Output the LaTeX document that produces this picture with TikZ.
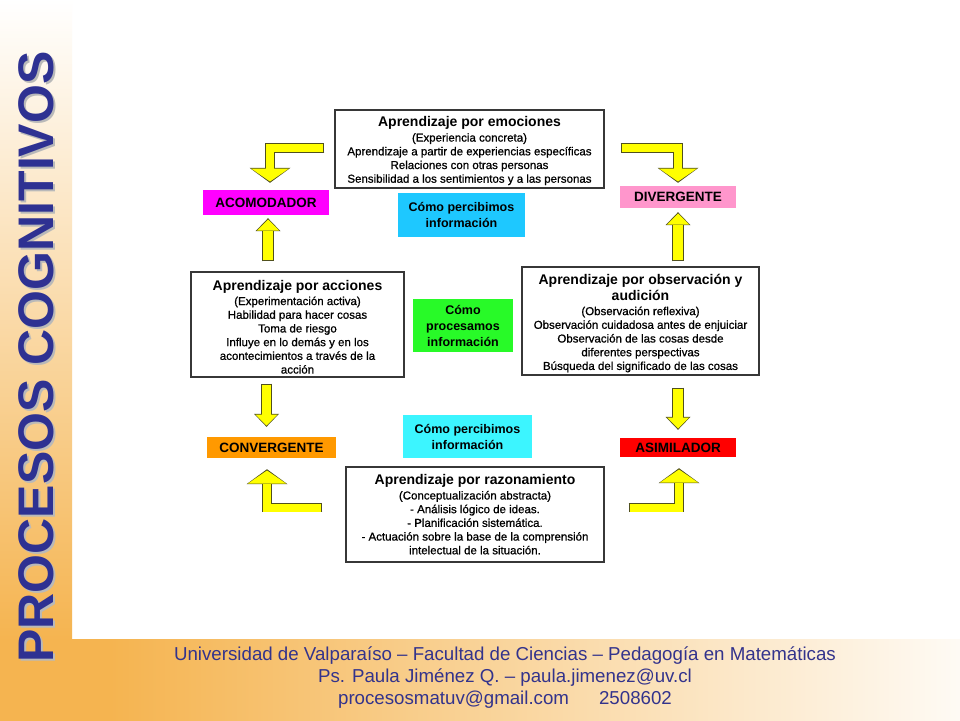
\documentclass[tikz,border=0pt]{standalone}
\usepackage{fontspec}
\setmainfont{Liberation Sans}
\newfontfamily\boxfont{Liberation Sans}[FakeBold=0.8]
\usetikzlibrary{arrows.meta,calc}

\definecolor{framegray}{RGB}{55,55,55}
\definecolor{arrowedge}{RGB}{80,80,30}
\definecolor{arrowfill}{RGB}{255,255,0}
\definecolor{skyA}{RGB}{30,200,255}
\definecolor{skyB}{RGB}{60,245,255}
\definecolor{procgreen}{RGB}{40,250,40}
\definecolor{acomcol}{RGB}{255,0,255}
\definecolor{divcol}{RGB}{255,150,204}
\definecolor{convcol}{RGB}{255,153,0}
\definecolor{asimcol}{RGB}{255,0,0}
\definecolor{slideorange}{RGB}{245,180,80}
\definecolor{titleblue}{RGB}{46,49,146}
\definecolor{footblue}{RGB}{51,51,140}

\newcommand{\headline}{\rmfamily\bfseries\fontsize{14}{16}\selectfont}

\tikzstyle{learn} = [draw=framegray, line width=1.3pt, rectangle, align=center, inner sep=2pt, font=\boxfont\fontsize{11.5}{13.7}\selectfont]
\tikzstyle{kind} = [rectangle, inner sep=0pt, font=\bfseries\fontsize{13.5}{15}\selectfont]
\tikzstyle{ask} = [rectangle, inner sep=0pt, align=center, font=\bfseries\fontsize{12.5}{16}\selectfont]
\tikzstyle{bent} = [draw=arrowfill, line width=8pt, line join=miter, shorten <=0.9pt, shorten >=1.3pt, -{Triangle[width=38pt, length=13pt, line width=0pt]}, preaction={draw=arrowedge, line width=9.8pt, shorten <=0pt, shorten >=0pt, -{Triangle[width=41pt, length=15pt, line width=0pt]}}]
\tikzstyle{upright} = [draw=arrowfill, line width=9.5pt, shorten <=0.9pt, shorten >=1.3pt, -{Triangle[width=22pt, length=11pt, line width=0pt]}, preaction={draw=arrowedge, line width=11.3pt, shorten <=0pt, shorten >=0pt, -{Triangle[width=25pt, length=13pt, line width=0pt]}}]
\tikzstyle{foot} = [text=footblue, font=\fontsize{18.7}{22}\selectfont, align=center]

\begin{document}
\begin{tikzpicture}[x=1pt, y=-1pt]
        \useasboundingbox (0,0) rectangle (960,720);
        \fill[white] (0,0) rectangle (960,720);
        \shade[top color=white, bottom color=slideorange] (0,-1) rectangle (72,640);
        \fill[slideorange] (-1,639) rectangle (112,721);
        \shade[left color=slideorange, right color=white!94!slideorange] (110,639) rectangle (961,721);

        \node[rotate=90, text=gray!55, font=\bfseries\fontsize{50}{50}\selectfont] (titleshade) at (38.5,359) {PROCESOS COGNITIVOS};
        \node[rotate=90, text=titleblue, font=\bfseries\fontsize{50}{50}\selectfont] (title) at (36,357) {PROCESOS COGNITIVOS};

        \node[learn, minimum width=269pt, minimum height=78pt] (emo) at (469.5,149) {\rule{0pt}{14pt}{\headline Aprendizaje por emociones}\\[1pt] (Experiencia concreta)\\ Aprendizaje a partir de experiencias específicas\\ Relaciones con otras personas\\ Sensibilidad a los sentimientos y a las personas};
        \node[learn, minimum width=213pt, minimum height=105pt] (acc) at (297.5,324.5) {\rule{0pt}{15pt}{\headline Aprendizaje por acciones}\\[1pt] (Experimentación activa)\\ Habilidad para hacer cosas\\ Toma de riesgo\\ Influye en lo demás y en los\\ acontecimientos a través de la\\ acción};
        \node[learn, minimum width=237pt, minimum height=108pt] (obs) at (640.5,321) {\rule{0pt}{15pt}{\headline Aprendizaje por observación y}\\[2.5pt] {\headline audición}\\[0.5pt] (Observación reflexiva)\\ Observación cuidadosa antes de enjuiciar\\ Observación de las cosas desde\\ diferentes perspectivas\\ Búsqueda del significado de las cosas};
        \node[learn, minimum width=258pt, minimum height=95pt] (raz) at (475,514.5) {{\headline Aprendizaje por razonamiento}\\[1pt] (Conceptualización abstracta)\\ - Análisis lógico de ideas.\\ - Planificación sistemática.\\ - Actuación sobre la base de la comprensión\\ intelectual de la situación.};

        \node[ask, fill=skyA, minimum width=127pt, minimum height=44pt] (per1) at (461.5,215) {Cómo percibimos\\ información};
        \node[ask, fill=procgreen, minimum width=100pt, minimum height=53pt] (proc) at (463,325.5) {Cómo\\ procesamos\\ información};
        \node[ask, fill=skyB, minimum width=129pt, minimum height=43pt] (per2) at (467.5,436.5) {Cómo percibimos\\ información};

        \node[kind, fill=acomcol, minimum width=126pt, minimum height=25pt] (acom) at (266,202.5) {ACOMODADOR};
        \node[kind, fill=divcol, minimum width=116pt, minimum height=22pt] (div) at (678,197) {DIVERGENTE};
        \node[kind, fill=convcol, minimum width=129pt, minimum height=21pt] (conv) at (271.5,447.5) {CONVERGENTE};
        \node[kind, fill=asimcol, minimum width=116pt, minimum height=19pt] (asim) at (678,447.5) {ASIMILADOR};

        \coordinate (tlS) at ($(emo.west)+(-10,-1)$);
        \coordinate (tlE) at ($(acom.north)+(4,-7)$);
        \coordinate (trS) at ($(emo.east)+(16,-1)$);
        \coordinate (trE) at ($(div.north)+(0,-3)$);
        \coordinate (ulS) at ($(acom.south |- acc.north)+(2,-10)$);
        \coordinate (ulE) at ($(acom.south)+(2,3)$);
        \coordinate (urS) at ($(div.south |- obs.north)+(0,-5)$);
        \coordinate (urE) at ($(div.south)+(0,4)$);
        \coordinate (dlS) at ($(conv.north |- acc.south)+(-5,6)$);
        \coordinate (dlE) at ($(conv.north)+(-5,-10)$);
        \coordinate (drS) at ($(asim.north |- obs.south)+(0,12)$);
        \coordinate (drE) at ($(asim.north)+(0,-8)$);
        \coordinate (blS) at ($(raz.west)+(-23,-7)$);
        \coordinate (blE) at ($(conv.south)+(-4.5,11)$);
        \coordinate (brS) at ($(raz.east)+(24,-7)$);
        \coordinate (brE) at ($(asim.south)+(1,11)$);

        \draw[bent] (tlS) -| (tlE);
        \draw[bent] (trS) -| (trE);
        \draw[upright] (ulS) -- (ulE);
        \draw[upright] (urS) -- (urE);
        \draw[upright] (dlS) -- (dlE);
        \draw[upright] (drS) -- (drE);
        \draw[bent] (blS) -| (blE);
        \draw[bent] (brS) -| (brE);

        \node[foot] (foot) at (505,678) {Universidad de Valparaíso – Facultad de Ciencias – Pedagogía en Matemáticas\\ Ps. Paula Jiménez Q. – paula.jimenez@uv.cl\\ procesosmatuv@gmail.com\hspace{30pt}2508602};
    \end{tikzpicture}
\end{document}
